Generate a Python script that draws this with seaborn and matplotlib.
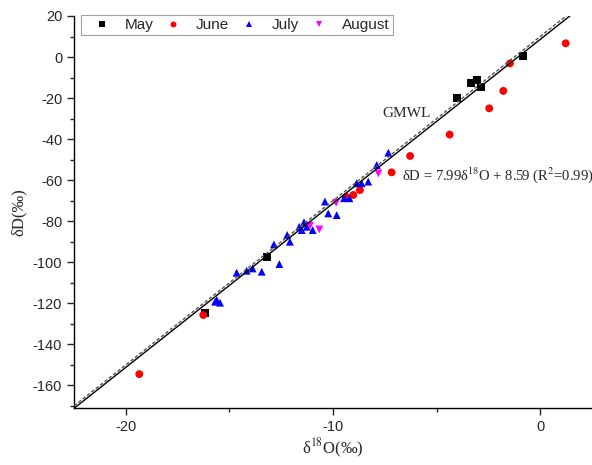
import numpy as np
import pandas as pd
import matplotlib
matplotlib.use('Agg')
import matplotlib.pyplot as plt
from matplotlib.ticker import MultipleLocator
import seaborn as sns

# sample values (d18O, dD)
may_x = [-0.81, -3.36, -3.04, -2.87, -4.00, -13.17, -16.18]
may_y = [0.5, -12.8, -11.2, -14.7, -20.1, -97.3, -124.9]

june_x = [1.23, -1.46, -1.78, -2.46, -4.37, -6.28, -7.17, -8.70, -9.02, -9.37, -16.26, -19.35]
june_y = [6.7, -3.1, -16.5, -25.0, -37.8, -48.2, -56.2, -64.8, -67.2, -68.1, -125.7, -154.5]

july_x = [-7.33, -7.89, -8.30, -8.86, -8.62, -9.47, -9.21, -10.39, -10.23, -9.82,
          -11.63, -11.40, -11.27, -11.51, -10.98, -12.21, -12.08, -12.85, -12.59,
          -13.44, -14.65, -14.17, -13.88, -15.69, -15.45, -15.61]
july_y = [-46.6, -52.6, -60.7, -61.5, -61.5, -68.8, -68.8, -70.4, -76.2, -77.0,
          -82.7, -80.5, -82.7, -84.3, -84.3, -86.7, -90.0, -91.3, -100.9,
          -104.6, -105.1, -104.1, -103.0, -119.2, -119.7, -118.4]

aug_x = [-7.81, -9.85, -11.11, -10.66]
aug_y = [-56.7, -71.0, -82.2, -84.0]

months = ['May', 'June', 'July', 'August']
colors = {'May': 'black', 'June': 'red', 'July': 'blue', 'August': 'magenta'}
markers = {'May': 's', 'June': 'o', 'July': '^', 'August': 'v'}

# fitted line and GMWL
fit_slope, fit_icpt = 7.99, 8.59
gmwl_slope, gmwl_icpt = 8.0, 10.0

df = pd.concat([
    pd.DataFrame({'d18O': may_x, 'dD': may_y, 'month': 'May'}),
    pd.DataFrame({'d18O': june_x, 'dD': june_y, 'month': 'June'}),
    pd.DataFrame({'d18O': july_x, 'dD': july_y, 'month': 'July'}),
    pd.DataFrame({'d18O': aug_x, 'dD': aug_y, 'month': 'August'}),
], ignore_index=True)

sns.set_style('ticks')
plt.rcParams['font.family'] = ['Liberation Sans', 'DejaVu Sans']
plt.rcParams['mathtext.fontset'] = 'stix'
plt.rcParams['axes.unicode_minus'] = False

fig = plt.figure(figsize=(5.92, 4.65), dpi=100)
ax = fig.add_axes([0.125, 0.1226, 0.875, 0.843])

sns.scatterplot(data=df, x='d18O', y='dD', hue='month', style='month',
                hue_order=months, style_order=months,
                palette=colors, markers=markers, s=32, linewidth=0,
                ax=ax, zorder=2)

xs = np.array([-22.5, 2.5])
ax.plot(xs, gmwl_slope * xs + gmwl_icpt, color='#555555', lw=1.0, ls=(0, (2.5, 1.5)), zorder=3)
ax.plot(xs, fit_slope * xs + fit_icpt, color='black', lw=1.0, zorder=3)

ax.set_xlim(-22.5, 2.5)
ax.set_ylim(-171, 20)
ax.xaxis.set_major_locator(MultipleLocator(10))
ax.xaxis.set_minor_locator(MultipleLocator(5))
ax.yaxis.set_major_locator(MultipleLocator(20))
ax.yaxis.set_minor_locator(MultipleLocator(10))
ax.tick_params(which='major', direction='out', length=5, width=1, labelsize=10.5)
ax.tick_params(which='minor', direction='out', length=3, width=1)
for s in ['top', 'right']:
    ax.spines[s].set_visible(False)
for s in ['left', 'bottom']:
    ax.spines[s].set_linewidth(1)
    ax.spines[s].set_color('black')

ax.set_xlabel('δ$^{18}$O(‰)', family='Liberation Serif', fontsize=12, labelpad=2)
ax.set_ylabel('δD(‰)', family='Liberation Serif', fontsize=12, labelpad=4)

ax.text(-6.43, -27.3, 'GMWL', family='Liberation Serif', fontsize=11,
        ha='center', va='center')
ax.text(-6.68, -57.5, 'δD = 7.99δ$^{18}$O + 8.59 (R$^{2}$=0.99)',
        family='Liberation Serif', fontsize=10.5, ha='left', va='center')

handles, labels = ax.get_legend_handles_labels()
leg = ax.legend(handles, labels, ncol=4, loc='upper left',
                bbox_to_anchor=(0.0135, 1.003), borderaxespad=0,
                fancybox=False, frameon=True, fontsize=11,
                handletextpad=0.35, columnspacing=0.15, markerscale=0.75,
                borderpad=0.2, handlelength=2.3)
leg.get_frame().set_edgecolor('#888888')
leg.get_frame().set_linewidth(0.8)

fig.savefig('out.png', dpi=100)
